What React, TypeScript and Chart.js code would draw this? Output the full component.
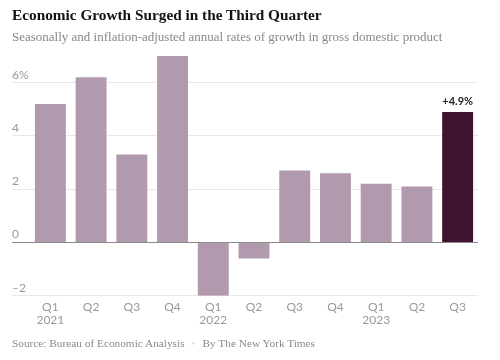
import React, { useEffect, useRef } from "react";
import { Chart, registerables } from "chart.js";

Chart.register(...registerables);

const quarters = ["Q1", "Q2", "Q3", "Q4", "Q1", "Q2", "Q3", "Q4", "Q1", "Q2", "Q3"];
const years = ["2021", "", "", "", "2022", "", "", "", "2023", "", ""];
const growth = [5.2, 6.2, 3.3, 7.0, -2.0, -0.6, 2.7, 2.6, 2.2, 2.1, 4.9];
const yTickValues = [-2, 0, 2, 4, 6];
const highlightIndex = 10;
const highlightLabel = "+4.9%";

const TITLE = "Economic Growth Surged in the Third Quarter";
const SUBTITLE = "Seasonally and inflation-adjusted annual rates of growth in gross domestic product";
const SOURCE = "Source: Bureau of Economic Analysis";
const CREDIT = "By The New York Times";

const LIGHT = "#b29aae";
const DARK = "#3e1230";

const labelPlugin = {
  id: "barLabel",
  afterDatasetsDraw(chart: any) {
    const meta = chart.getDatasetMeta(0);
    const el = meta.data[highlightIndex];
    if (!el) return;
    const ctx = chart.ctx;
    ctx.save();
    ctx.font = "bold 11px Lato";
    ctx.fillStyle = "#222";
    ctx.textAlign = "center";
    ctx.textBaseline = "bottom";
    ctx.fillText(highlightLabel, el.x, el.y - 5);
    ctx.restore();
  },
};

export default function App() {
  const ref = useRef<HTMLCanvasElement | null>(null);
  useEffect(() => {
    if (!ref.current) return;
    const chart = new Chart(ref.current, {
      type: "bar",
      data: {
        labels: quarters.map((q, i) => (years[i] ? [q, years[i]] : q)),
        datasets: [
          {
            data: growth,
            backgroundColor: growth.map((_, i) => (i === highlightIndex ? DARK : LIGHT)),
            categoryPercentage: 1,
            barPercentage: 0.76,
          },
        ],
      },
      options: {
        animation: false,
        responsive: false,
        maintainAspectRatio: false,
        layout: { padding: { left: 12, right: 22, top: 56, bottom: 29.1 } },
        plugins: { legend: { display: false }, tooltip: { enabled: false } },
        scales: {
          x: {
            grid: { display: false, drawTicks: false },
            border: { display: false },
            ticks: {
              color: "#999",
              font: { family: "Lato", size: 12, lineHeight: 1.1 },
              padding: 4.4,
              maxRotation: 0,
              autoSkip: false,
            },
          },
          y: {
            min: -2,
            max: 7,
            afterBuildTicks: (axis: any) => {
              axis.ticks = yTickValues.map((v) => ({ value: v }));
            },
            afterFit: (axis: any) => {
              axis.width = 18;
            },
            border: { display: false },
            grid: {
              color: (c: any) => (c.tick && c.tick.value === 0 ? "#8a8a8a" : "#e8e8e8"),
              lineWidth: 1,
              drawTicks: true,
              tickLength: 18,
            },
            ticks: {
              crossAlign: "far",
              labelOffset: -8,
              padding: 0,
              color: "#999",
              font: { family: "Lato", size: 12 },
              callback: (v: any) => {
                const n = Number(v);
                if (n === 6) return "6%";
                if (n < 0) return "\u2013" + Math.abs(n);
                return String(n);
              },
            },
          },
        },
      },
      plugins: [labelPlugin],
    });
    return () => chart.destroy();
  }, []);

  return (
    <div style={{ position: "fixed", left: 0, top: 0, width: 500, height: 360, background: "#fff", overflow: "hidden" }}>
      <canvas ref={ref} width={500} height={360} style={{ position: "absolute", left: 0, top: 0, width: 500, height: 360 }} />
      <div
        style={{
          position: "absolute",
          left: 12,
          top: 6,
          font: "bold 15.3px 'Liberation Serif'",
          color: "#121212",
          whiteSpace: "nowrap",
        }}
      >
        {TITLE}
      </div>
      <div
        style={{
          position: "absolute",
          left: 12,
          top: 29,
          font: "13px 'Liberation Serif'",
          color: "#888",
          whiteSpace: "nowrap",
        }}
      >
        {SUBTITLE}
      </div>
      <div
        style={{
          position: "absolute",
          left: 12,
          top: 337,
          font: "11.3px 'Liberation Serif'",
          color: "#8a8a8a",
          whiteSpace: "nowrap",
        }}
      >
        {SOURCE}
        <span style={{ color: "#ddd", margin: "0 7px" }}>•</span>
        {CREDIT}
      </div>
    </div>
  );
}
